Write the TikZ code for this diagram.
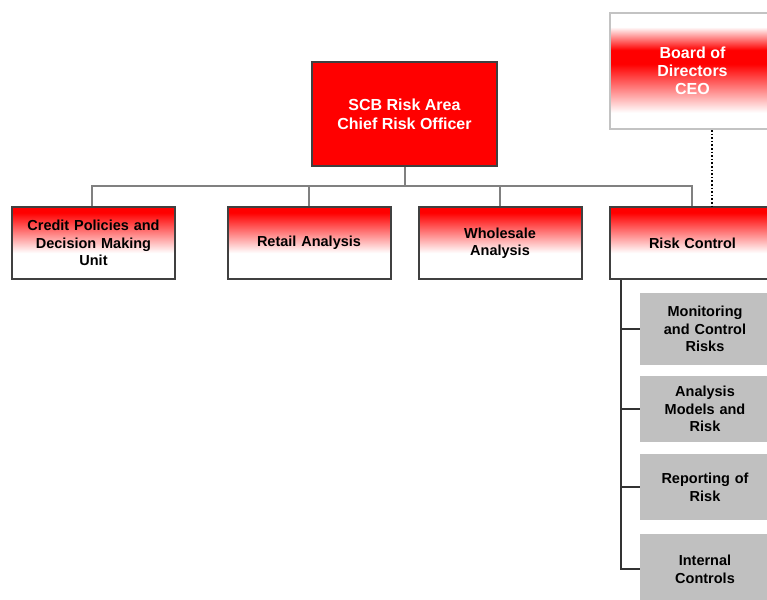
\documentclass[tikz,border=0pt]{standalone}
\usepackage{fontspec}
\setmainfont{Liberation Sans}
\usetikzlibrary{calc}
\definecolor{rd}{RGB}{255,0,0}
\definecolor{boxborder}{RGB}{64,64,64}
\definecolor{treeline}{RGB}{128,128,128}
\definecolor{spine}{RGB}{51,51,51}
\definecolor{graybox}{RGB}{192,192,192}
\definecolor{boardborder}{RGB}{195,195,195}
\pgfdeclareverticalshading{rowshade}{100bp}{color(0bp)=(white); color(25bp)=(white); color(43bp)=(white); color(71bp)=(rd); color(100bp)=(rd)}
\pgfdeclareverticalshading{boardshade}{100bp}{color(0bp)=(white); color(32bp)=(white); color(53bp)=(rd); color(59bp)=(rd); color(69bp)=(white); color(100bp)=(white)}
\begin{document}
\begin{tikzpicture}[x=1pt,y=-1pt,
  rowbox/.style={draw=boxborder, line width=2pt, shading=rowshade, minimum width=163pt, minimum height=72pt, inner sep=0pt, align=center, text width=150pt, font=\fontsize{14.5}{17.5}\selectfont\bfseries},
  topbox/.style={draw=boxborder, line width=2pt, fill=rd, text=white, minimum width=185pt, minimum height=104pt, inner sep=0pt, align=center, font=\fontsize{16}{19}\selectfont\bfseries},
  boardbox/.style={draw=boardborder, line width=2pt, shading=boardshade, text=white, minimum width=165pt, minimum height=116pt, inner sep=0pt, align=center, font=\fontsize{16}{18}\selectfont\bfseries},
  subbox/.style={fill=graybox, minimum width=130pt, inner sep=0pt, align=center, text width=120pt, font=\fontsize{14.5}{17.7}\selectfont\bfseries},
  treeconn/.style={draw=treeline, line width=2pt},
  spineconn/.style={draw=spine, line width=2pt},
  dotconn/.style={draw=black, line width=1.6pt, dotted}
]
\useasboundingbox (0,0) rectangle (767,599);
\clip (0,0) rectangle (767,599);
\fill[white] (0,0) rectangle (767,599);

\node[topbox] (scb) at (404.5,114) {SCB Risk Area\\Chief Risk Officer};
\node[boardbox] (board) at (692.5,71) {Board of\\Directors\\CEO};

\node[rowbox] (credit) at (93.5,243) {Credit Policies and\\Decision Making\\Unit};
\node[rowbox] (retail) at (309,243) {Retail Analysis};
\node[rowbox] (whole) at (500,243) {Wholesale\\Analysis};
\node[rowbox, minimum width=165pt] (riskc) at (692.5,243) {Risk Control};

\node[subbox, minimum height=72pt] (s1) at (705,329) {Monitoring\\and Control\\Risks};
\node[subbox, minimum height=66pt] (s2) at (705,409) {Analysis\\Models and\\Risk};
\node[subbox, minimum height=66pt] (s3) at (705,487) {Reporting of\\Risk};
\node[subbox, minimum height=70pt] (s4) at (705,569) {Internal\\Controls};

\coordinate (bus) at (0,186);
\draw[treeconn] (scb.south) -- (scb.south |- bus);
\draw[treeconn] ([xshift=-1.5pt]credit.north) -- ([xshift=-1.5pt]credit.north |- bus)
  -- ([xshift=-0.5pt]riskc.north |- bus) -- ([xshift=-0.5pt]riskc.north);
\draw[treeconn] (retail.north) -- (retail.north |- bus);
\draw[treeconn] (whole.north) -- (whole.north |- bus);

\draw[dotconn] ([xshift=19.5pt]board.south) -- ([xshift=19.5pt]riskc.north);

\coordinate (sp) at (621,0);
\draw[spineconn] (riskc.south -| sp) -- (s4.west -| sp) -- (s4.west);
\draw[spineconn] (s1.west -| sp) -- (s1.west);
\draw[spineconn] (s2.west -| sp) -- (s2.west);
\draw[spineconn] (s3.west -| sp) -- (s3.west);
\end{tikzpicture}
\end{document}
